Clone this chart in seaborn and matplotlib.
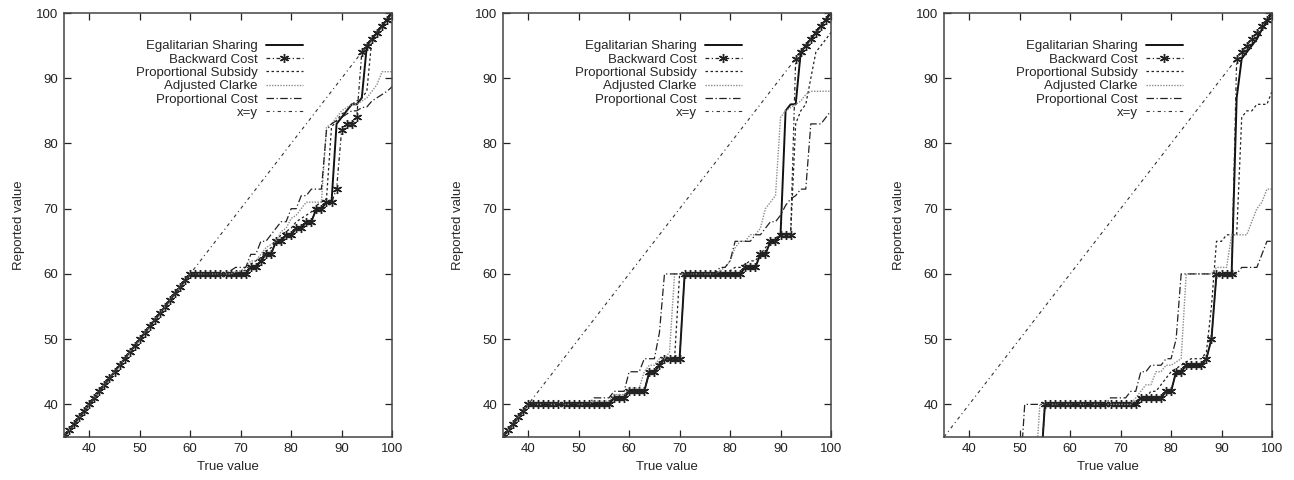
import matplotlib
matplotlib.use("Agg")
import matplotlib.pyplot as plt
import pandas as pd
import seaborn as sns

# x grid (true value) and axis ticks
true_value = list(range(35, 101))
tick_values = [40, 50, 60, 70, 80, 90, 100]
series_names = ["Egalitarian Sharing", "Backward Cost", "Proportional Subsidy",
                "Adjusted Clarke", "Proportional Cost", "x=y"]

# %% panel 1
p1_es = [35, 36, 37, 38, 39, 40, 41, 42, 43, 44, 45, 46, 47, 48, 49, 50, 51, 52, 53, 54, 55, 56, 57, 58, 59, 60,
         60, 60, 60, 60, 60, 60, 60, 60, 60, 60, 60,
         61, 61, 62, 63, 63, 65, 65, 66, 66, 67, 67, 68, 68, 70, 70, 71, 71,
         83, 84, 85, 86, 86, 87, 95, 96, 97, 98, 99, 100]
p1_bc = [35, 36, 37, 38, 39, 40, 41, 42, 43, 44, 45, 46, 47, 48, 49, 50, 51, 52, 53, 54, 55, 56, 57, 58, 59, 60,
         60, 60, 60, 60, 60, 60, 60, 60, 60, 60, 60,
         61, 61, 62, 63, 63, 65, 65, 66, 66, 67, 67, 68, 68, 70, 70, 71, 71,
         73, 82, 83, 83, 84, 94, 95, 96, 97, 98, 99, 100]
p1_ps = [35, 36, 37, 38, 39, 40, 41, 42, 43, 44, 45, 46, 47, 48, 49, 50, 51, 52, 53, 54, 55, 56, 57, 58, 59, 60,
         60, 60, 60, 60, 60, 60, 60, 60, 60,
         60.3, 60.6, 61.5, 62, 62.5, 63.5, 64, 65, 66, 66.5, 67, 68, 68.5, 69, 69.5, 70.5, 71, 71.5,
         82.5, 83.5, 84.5, 85, 86, 86.5, 87, 88, 96, 97, 98, 99, 100]
p1_ac = [35, 36, 37, 38, 39, 40, 41, 42, 43, 44, 45, 46, 47, 48, 49, 50, 51, 52, 53, 54, 55, 56, 57, 58, 59, 60,
         60, 60, 60, 60, 60, 60, 60, 60,
         60.3, 60.5, 61, 62, 62, 63, 64, 64.5, 65, 66.5, 67, 68.5, 69, 70, 71, 71, 71, 71,
         82.5, 83, 84, 85, 85.5, 86, 86, 86.5, 87, 88, 89, 91, 91, 91]
p1_pc = [35, 36, 37, 38, 39, 40, 41, 42, 43, 44, 45, 46, 47, 48, 49, 50, 51, 52, 53, 54, 55, 56, 57, 58, 59, 60,
         60, 60, 60, 60, 60, 60, 60,
         60.5, 61, 61, 61, 63, 63, 65, 65, 66, 67, 68, 68, 70, 70, 72, 72, 73, 73, 73,
         82, 83, 83.5, 84, 84.5, 85, 85, 85.5, 85.6, 86.5, 87, 87.5, 88, 88.7]

# %% panel 2
p2_es = [35, 36, 37, 38, 39, 40,
         40, 40, 40, 40, 40, 40, 40, 40, 40, 40, 40, 40, 40, 40, 40, 40,
         41, 41, 41, 42, 42, 42, 42, 45, 45, 46, 47, 47, 47, 47,
         60, 60, 60, 60, 60, 60, 60, 60, 60, 60, 60, 60,
         61, 61, 61, 63, 63, 65, 65,
         66, 85, 86, 86, 94, 95, 96, 97, 98, 99, 100]
p2_bc = [35, 36, 37, 38, 39, 40,
         40, 40, 40, 40, 40, 40, 40, 40, 40, 40, 40, 40, 40, 40, 40, 40,
         41, 41, 41, 42, 42, 42, 42, 45, 45, 46, 47, 47, 47, 47,
         60, 60, 60, 60, 60, 60, 60, 60, 60, 60, 60, 60,
         61, 61, 61, 63, 63, 65, 65,
         66, 66, 66, 93, 94, 95, 96, 97, 98, 99, 100]
p2_ps = [35, 36, 37, 38, 39, 40,
         40, 40, 40, 40, 40, 40, 40, 40, 40, 40, 40, 40,
         40.3, 40.3, 40.3, 40.3, 41, 41, 41, 42, 42, 42, 42,
         45, 45, 46, 47, 47, 47, 60,
         60, 60, 60, 60, 60, 60, 60, 60, 60,
         60.5, 61, 61, 61.5, 62, 62, 63, 64, 65, 65.5, 66, 66, 66,
         83, 85, 86, 90, 94, 95, 96, 97]
p2_ac = [35, 36, 37, 38, 39, 40,
         40, 40, 40, 40, 40, 40, 40, 40, 40, 40, 40, 40,
         40.5, 40.5, 40.5, 40.5, 41.5, 41.5, 41.5, 42.5, 42.5, 42.5,
         45, 46, 46, 47, 47, 48, 60,
         60, 60, 60, 60, 60, 60, 60, 60,
         60.5, 61, 62, 64, 65, 65, 66, 66, 67, 70, 71, 72,
         84, 85, 85.5, 86, 86.5, 87.5, 88, 88, 88, 88, 88]
p2_pc = [35, 36, 37, 38, 39, 40,
         40, 40, 40, 40, 40, 40, 40, 40, 40, 40, 40, 40,
         41, 41, 41, 41, 42, 42, 42, 45, 45, 45, 47, 47, 47, 51,
         60, 60, 60, 60, 60, 60, 60, 60, 60, 60, 60,
         61, 61, 62, 65, 65, 65, 65, 66, 66, 67, 68, 68,
         69, 70.5, 71.5, 72, 73, 73, 83, 83, 83, 84, 85]

# %% panel 3 (values under 35 fall below the axis)
p3_es = [28, 28, 28, 28, 28, 28, 28, 28, 28, 28, 28, 28, 28, 28, 28, 28, 28, 28, 28, 28,
         40, 40, 40, 40, 40, 40, 40, 40, 40, 40, 40, 40, 40, 40, 40, 40, 40, 40, 40,
         41, 41, 41, 41, 41, 42, 42, 45, 45, 46, 46, 46, 46, 47, 50,
         60, 60, 60, 60,
         87, 93, 94, 95, 96, 97.5, 98.7, 100]
p3_bc = [28, 28, 28, 28, 28, 28, 28, 28, 28, 28, 28, 28, 28, 28, 28, 28, 28, 28, 28, 28,
         40, 40, 40, 40, 40, 40, 40, 40, 40, 40, 40, 40, 40, 40, 40, 40, 40, 40, 40,
         41, 41, 41, 41, 41, 42, 42, 45, 45, 46, 46, 46, 46, 47, 50,
         60, 60, 60, 60,
         93, 94, 95, 96, 97, 98, 99, 100]
p3_ps = [28, 28, 28, 28, 28, 28, 28, 28, 28, 28, 28, 28, 28, 28, 28, 28, 28, 28, 28, 28,
         40, 40, 40, 40, 40, 40, 40, 40, 40, 40, 40, 40, 40, 40, 40, 40, 40, 40,
         40.5, 41, 41, 42, 42, 43, 44, 45, 45.5, 46, 46.5, 47, 47, 47, 48, 55,
         65, 65, 66, 66, 66, 84, 85, 85, 86, 86, 86, 88]
p3_ac = [28, 28, 28, 28, 28, 28, 28, 28, 28, 28, 28, 28, 28, 28, 28, 28, 28, 28, 28,
         40, 40, 40, 40, 40, 40, 40, 40, 40, 40, 40, 40, 40, 40, 40, 40, 40, 40, 40,
         41, 42, 43, 43, 45, 45, 46, 46, 46.5, 47, 60,
         60, 60, 60, 60, 60, 61, 61, 61,
         66, 66, 66, 66, 68, 70, 71, 73, 73]
p3_pc = [28, 28, 28, 28, 28, 28, 28, 28, 28, 28, 28, 28, 28, 28, 28, 28,
         40, 40, 40, 40, 40, 40, 40, 40, 40, 40, 40, 40, 40, 40, 40, 40, 40,
         41, 41, 41, 41, 42, 42, 45, 45, 46, 46, 46, 47, 47, 50,
         60, 60, 60, 60, 60, 60, 60, 60, 60, 60, 60, 60,
         61, 61, 61, 61, 63, 65, 65]

panels = [
    [p1_es, p1_bc, p1_ps, p1_ac, p1_pc],
    [p2_es, p2_bc, p2_ps, p2_ac, p2_pc],
    [p3_es, p3_bc, p3_ps, p3_ac, p3_pc],
]

# gnuplot-like monochrome line styles
styles = {
    "Egalitarian Sharing": dict(color="#111111", lw=1.4, ls="-"),
    "Backward Cost": dict(color="#222222", lw=0.9, ls=(0, (3, 2, 1, 2))),
    "Proportional Subsidy": dict(color="#222222", lw=0.9, ls=(0, (2, 2))),
    "Adjusted Clarke": dict(color="#8c8c8c", lw=1.0, ls=(0, (1, 1))),
    "Proportional Cost": dict(color="#222222", lw=0.9, ls=(0, (6, 2, 1, 2))),
    "x=y": dict(color="#333333", lw=0.8, ls=(0, (3, 3, 1, 3))),
}

sns.set_theme(style="ticks")
plt.rcParams["font.family"] = ["Liberation Sans", "DejaVu Sans"]
plt.rcParams["font.size"] = 9.5

fig = plt.figure(figsize=(12.94, 4.8), dpi=100)
lefts = [0.0495, 0.3887, 0.7295]

for left, series in zip(lefts, panels):
    ax = fig.add_axes([left, 0.0896, 0.2535, 0.8833])
    for name, yvals in zip(series_names[:5], series):
        df = pd.DataFrame({"x": true_value, "y": yvals})
        sns.lineplot(data=df, x="x", y="y", ax=ax, label=name, estimator=None,
                     sort=False, **styles[name])
        if name == "Backward Cost":
            # asterisk point at every true value, like gnuplot pt 3
            ln = ax.lines[-1]
            ln.set_marker((6, 2, 0))
            ln.set_markersize(6.5)
            ln.set_markeredgewidth(1.0)
            ln.set_markeredgecolor("#222222")
    sns.lineplot(x=true_value, y=true_value, ax=ax, label="x=y", estimator=None,
                 **styles["x=y"])

    ax.set_xlim(35, 100)
    ax.set_ylim(35, 100)
    ax.set_xticks(tick_values)
    ax.set_yticks(tick_values)
    ax.tick_params(direction="in", length=5, width=0.9, top=True, right=True,
                   labelsize=9.5, colors="#222222", pad=4)
    for s in ax.spines.values():
        s.set_color("#444444")
        s.set_linewidth(1.1)
    ax.set_xlabel("True value", fontsize=9.5, labelpad=5)
    ax.set_ylabel("Reported value", fontsize=9.5, labelpad=8)

    handles, labels = ax.get_legend_handles_labels()
    ax.legend(handles, labels, loc="upper right", bbox_to_anchor=(0.728, 0.936),
              frameon=False, markerfirst=False, numpoints=1, fontsize=9.5,
              handlelength=2.8, handletextpad=0.6, labelspacing=0.08,
              borderpad=0, borderaxespad=0)

fig.savefig("out.png", dpi=100)
